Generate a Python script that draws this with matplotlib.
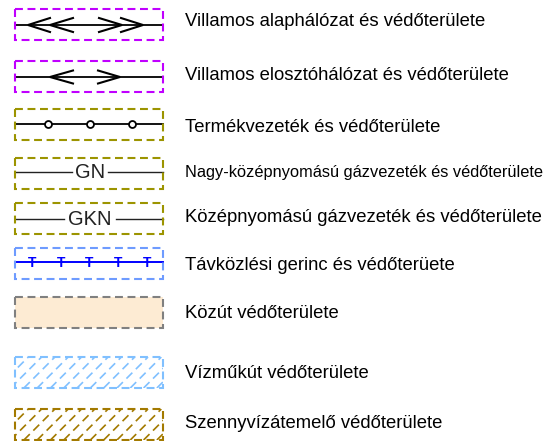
import numpy as np
import matplotlib
matplotlib.use("Agg")
import matplotlib.pyplot as plt
from matplotlib import font_manager
from matplotlib.patches import Rectangle

# legend content
labels = [
    "Villamos alaphálózat és védőterülete",
    "Villamos elosztóhálózat és védőterülete",
    "Termékvezeték és védőterülete",
    "Nagy-középnyomású gázvezeték és védőterülete",
    "Középnyomású gázvezeték és védőterülete",
    "Távközlési gerinc és védőterüete",
    "Közút védőterülete",
    "Vízműkút védőterülete",
    "Szennyvízátemelő védőterülete",
]
symbols = ["arrows2", "arrows1", "circles", "text", "text", "tees", "fill", "hatch", "hatch"]
inner_text = ["", "", "", "GN", "GKN", "", "", "", ""]
n_circles = 3
n_tees = 5

# styles
box_colors = ["#C000FF", "#C000FF", "#9C9400", "#9C9400", "#9C9400",
              "#6E9BFF", "#808080", "#80C0FF", "#A37A00"]
fill_color = "#FDEBD3"

# layout (pixel units)
box_left, box_right = 15, 163
box_top = [9, 61, 109, 158, 203, 248, 297, 357, 409]
box_h = 31
line_y = [25, 77, 124, 172, 219, 262]
text_x = 185
text_y = [22, 75, 127, 172, 218, 266, 314, 374, 423]

names = {f.name for f in font_manager.fontManager.ttflist}
if "Liberation Sans Narrow" in names:
    fam, scale, code_size = "Liberation Sans Narrow", 1.2, 17
else:
    fam, scale, code_size = "Liberation Sans", 1.0, 14.5
lab_sizes = [13.3, 13.3, 13.3, 11.8, 13.3, 13.3, 13.3, 13.3, 13.3]

fig = plt.figure(figsize=(5.55, 4.41), dpi=100)
ax = fig.add_axes([0, 0, 1, 1])
ax.set_xlim(0, 555)
ax.set_ylim(441, 0)
ax.axis("off")

dash = (0, (3.8, 2.2))
w = box_right - box_left


def chevron(x_tip, x_open, y, h):
    ax.plot([x_open, x_tip, x_open], [y - h, y, y + h], color="black", lw=1.5,
            solid_joinstyle="miter", zorder=3)


for i, lab in enumerate(labels):
    top = box_top[i]
    col = box_colors[i]
    kind = symbols[i]
    face = fill_color if kind == "fill" else "none"
    rect = Rectangle((box_left, top), w, box_h, facecolor=face, edgecolor=col,
                     lw=1.5, linestyle=dash, zorder=4)
    ax.add_patch(rect)
    ax.text(text_x, text_y[i], lab, fontsize=lab_sizes[i] * scale, family=fam,
            va="center", ha="left", color="black")

    if kind in ("arrows2", "arrows1", "circles", "text", "tees"):
        y = line_y[i]
    if kind == "arrows2":
        ax.plot([box_left, box_right], [y, y], color="black", lw=1.3)
        chevron(28, 50, y, 7)
        chevron(50, 73, y, 7)
        chevron(122, 99, y, 7)
        chevron(143, 121, y, 7)
    elif kind == "arrows1":
        ax.plot([box_left, box_right], [y, y], color="black", lw=1.3)
        chevron(50, 73, y, 6.5)
        chevron(120, 98, y, 6.5)
    elif kind == "circles":
        ax.plot([box_left, box_right], [y, y], color="black", lw=1.3)
        xs = np.linspace(48, 132, n_circles)
        ax.plot(xs, [y] * n_circles, "o", ms=5, mfc="white", mec="black",
                mew=1.3, zorder=5)
    elif kind == "text":
        t = inner_text[i]
        cx = 90
        half = 18 if len(t) == 2 else 26
        ax.plot([box_left, cx - half], [y, y], color="#222222", lw=1.0)
        ax.plot([cx + half, box_right], [y, y], color="#222222", lw=1.0)
        ax.text(cx, y + 0.5, t, fontsize=code_size, family=fam, ha="center",
                va="center", color="#222222")
    elif kind == "tees":
        ax.plot([box_left, box_right], [y, y], color="#0000FF", lw=1.4)
        xs = np.linspace(32, 147, n_tees)
        for x in xs:
            ax.text(x, y + 1, "T", fontsize=10, fontweight="bold",
                    family="Liberation Sans", color="#0000FF", ha="center",
                    va="center", zorder=5)
    elif kind == "hatch":
        for x0 in np.arange(box_left - box_h, box_right + 13, 13.3):
            ln, = ax.plot([x0, x0 + box_h], [top + box_h, top], color=col,
                          lw=1.2, linestyle=(0, (5, 3)), zorder=2)
            ln.set_clip_path(rect)

fig.savefig("out.png", dpi=100)
